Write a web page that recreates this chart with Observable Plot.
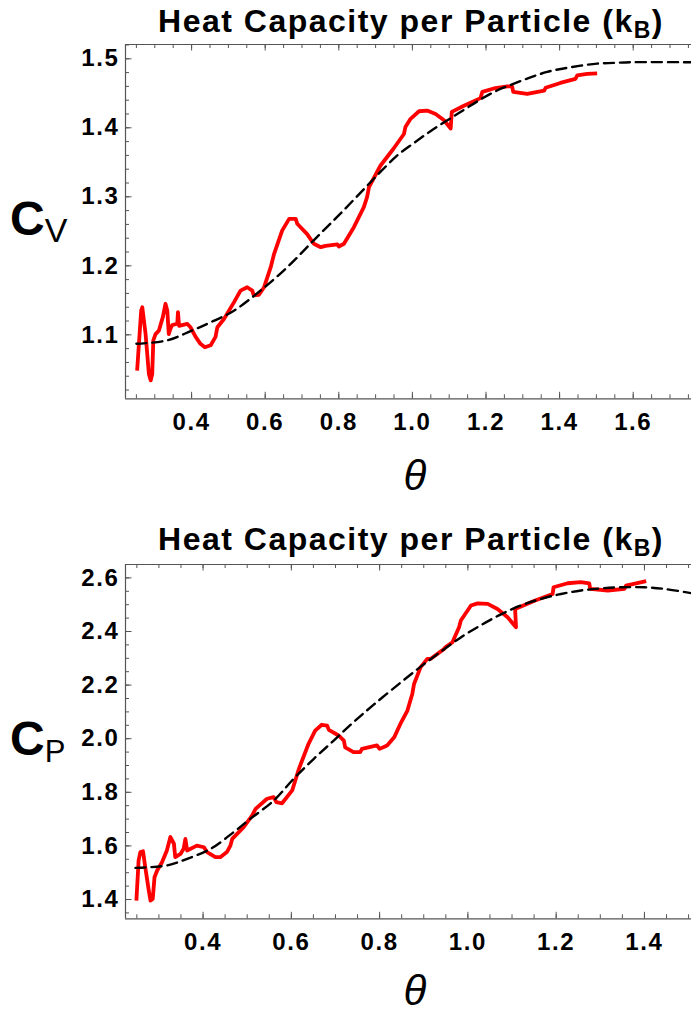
<!DOCTYPE html>
<html><head><meta charset="utf-8">
<script src="https://cdn.jsdelivr.net/npm/d3@7"></script>
<script src="https://cdn.jsdelivr.net/npm/@observablehq/plot@0.6"></script>
<style>
body{margin:0;background:#fff;}
#chart{width:691px;height:1013px;position:relative;overflow:hidden;background:#fff;}
#chart svg{display:block;}
</style></head><body><div id="chart"></div>
<script>
// ---------- Panel 1: C_V ----------
const cvDataTheta = [0.252,0.263,0.266,0.275,0.284,0.289,0.293,0.296,0.302,0.311,0.322,0.329,0.334,0.338,0.342,0.347,0.361,0.363,0.366,0.388,0.397,0.411,0.424,0.436,0.452,0.465,0.470,0.488,0.515,0.533,0.551,0.565,0.569,0.583,0.597,0.615,0.624,0.646,0.665,0.683,0.687,0.714,0.732,0.751,0.764,0.796,0.800,0.814,0.841,0.868,0.877,0.882,0.913,0.949,0.977,0.981,0.995,1.018,1.040,1.063,1.086,1.104,1.107,1.140,1.185,1.190,1.221,1.258,1.271,1.274,1.312,1.358,1.362,1.402,1.443,1.448,1.475,1.502];
const cvDataValue = [1.048,1.135,1.140,1.101,1.043,1.034,1.043,1.092,1.101,1.106,1.126,1.145,1.135,1.101,1.108,1.114,1.116,1.133,1.113,1.116,1.111,1.097,1.087,1.082,1.085,1.097,1.111,1.123,1.147,1.164,1.169,1.164,1.157,1.158,1.169,1.198,1.217,1.251,1.268,1.268,1.261,1.246,1.232,1.227,1.229,1.231,1.228,1.232,1.256,1.285,1.300,1.314,1.345,1.370,1.391,1.401,1.413,1.424,1.425,1.420,1.411,1.399,1.423,1.432,1.443,1.452,1.457,1.460,1.460,1.452,1.449,1.454,1.458,1.465,1.471,1.476,1.478,1.479];
const cvTheoryTheta = [0.25,0.334,0.40,0.451,0.515,0.587,0.66,0.732,0.805,0.877,0.913,0.959,1.004,1.049,1.095,1.140,1.185,1.230,1.276,1.321,1.366,1.411,1.457,1.502,1.547,1.593,1.76];
const cvTheoryValue = [1.087,1.092,1.106,1.118,1.135,1.164,1.198,1.237,1.276,1.316,1.336,1.360,1.378,1.395,1.411,1.426,1.441,1.454,1.464,1.473,1.481,1.486,1.490,1.493,1.494,1.495,1.495];
const cvXTicks = [0.4,0.6,0.8,1.0,1.2,1.4,1.6];
const cvYTicks = [1.1,1.2,1.3,1.4,1.5];

// ---------- Panel 2: C_P ----------
const cpDataTheta = [0.249,0.254,0.258,0.264,0.269,0.277,0.281,0.286,0.290,0.296,0.307,0.318,0.326,0.334,0.337,0.349,0.356,0.360,0.364,0.386,0.402,0.409,0.428,0.439,0.454,0.462,0.466,0.492,0.511,0.519,0.545,0.560,0.566,0.579,0.602,0.617,0.639,0.654,0.669,0.681,0.685,0.707,0.719,0.722,0.741,0.756,0.760,0.794,0.800,0.817,0.833,0.847,0.863,0.874,0.878,0.893,0.908,0.916,0.946,0.949,0.965,0.980,0.984,1.007,1.022,1.045,1.067,1.090,1.109,1.107,1.151,1.192,1.194,1.226,1.256,1.275,1.277,1.317,1.355,1.358,1.404];
const cpDataValue = [1.396,1.546,1.577,1.580,1.521,1.434,1.396,1.402,1.483,1.508,1.539,1.583,1.633,1.608,1.558,1.570,1.589,1.626,1.583,1.601,1.595,1.577,1.558,1.558,1.577,1.601,1.626,1.670,1.713,1.738,1.776,1.782,1.763,1.759,1.807,1.887,1.981,2.030,2.052,2.049,2.033,2.012,1.993,1.968,1.950,1.950,1.962,1.975,1.962,1.975,2.005,2.055,2.105,2.167,2.204,2.267,2.298,2.298,2.335,2.341,2.360,2.416,2.441,2.497,2.505,2.503,2.484,2.453,2.416,2.484,2.515,2.540,2.565,2.580,2.584,2.580,2.559,2.553,2.559,2.571,2.588];
const cpTheoryTheta = [0.247,0.318,0.364,0.417,0.469,0.507,0.560,0.605,0.651,0.696,0.741,0.786,0.848,0.894,0.939,0.984,1.030,1.075,1.120,1.166,1.211,1.256,1.302,1.347,1.400,1.445,1.506];
const cpTheoryValue = [1.518,1.527,1.552,1.589,1.651,1.701,1.769,1.850,1.925,1.993,2.062,2.126,2.210,2.270,2.325,2.378,2.424,2.464,2.497,2.522,2.540,2.553,2.561,2.565,2.565,2.559,2.543];
const cpXTicks = [0.4,0.6,0.8,1.0,1.2,1.4];
const cpYTicks = [1.4,1.6,1.8,2.0,2.2,2.4,2.6];

const titleText = "Heat Capacity per Particle (k";
const titleSub = "B";
const xLabel = "θ";

const FONT = "'Liberation Sans', Arial, Helvetica, sans-serif";
const frameColor = "#555";

function zip(xs, ys) { return xs.map((x, i) => ({x, y: ys[i]})); }

function panel(o) {
  const W = 691, mL = 125, mR = 0;
  const plotW = W - mL - mR;
  const plotH = o.height - o.marginTop - o.marginBottom;
  const fmt = d3.format(".1f");
  const svg = Plot.plot({
    width: W, height: o.height,
    marginLeft: mL, marginRight: mR, marginTop: o.marginTop, marginBottom: o.marginBottom,
    style: `font-family:${FONT};letter-spacing:1.6px;background:#fff;color:#000;overflow:visible;`,
    x: {domain: o.xDomain},
    y: {domain: o.yDomain},
    marks: [
      Plot.ruleX([o.xDomain[0]], {stroke: frameColor, strokeWidth: 1.2}),
      Plot.ruleY([o.yDomain[0]], {stroke: frameColor, strokeWidth: 1.2}),
      Plot.ruleY([o.yDomain[1]], {stroke: frameColor, strokeWidth: 1.2}),
      Plot.tickX(o.xMinor, {x: d => d, stroke: frameColor, strokeWidth: 1, insetTop: plotH - 4}),
      Plot.tickX(o.xTicks, {x: d => d, stroke: frameColor, strokeWidth: 1, insetTop: plotH - 6.5}),
      Plot.tickX(o.xMinor, {x: d => d, stroke: frameColor, strokeWidth: 1, insetBottom: plotH - 4}),
      Plot.tickX(o.xTicks, {x: d => d, stroke: frameColor, strokeWidth: 1, insetBottom: plotH - 6.5}),
      Plot.tickY(o.yMinor, {y: d => d, stroke: frameColor, strokeWidth: 1, insetRight: plotW - 4}),
      Plot.tickY(o.yTicks, {y: d => d, stroke: frameColor, strokeWidth: 1, insetRight: plotW - 6.5}),
      Plot.axisX({ticks: o.xTicks, tickSize: 0, tickPadding: 14, tickFormat: fmt, fontSize: 24, fontWeight: "bold", label: null, fill: "#000"}),
      Plot.axisY({ticks: o.yTicks, tickSize: 0, tickPadding: 6, tickFormat: fmt, fontSize: 24, fontWeight: "bold", label: null, fill: "#000"}),
      Plot.line(o.data, {x: "x", y: "y", stroke: "#ff0000", strokeWidth: 3.8, strokeLinejoin: "round", strokeLinecap: "butt"}),
      Plot.line(o.theory, {x: "x", y: "y", stroke: "#000", strokeWidth: 2.4, strokeDasharray: "10,6", curve: "catmull-rom"})
    ]
  });
  const s = d3.select(svg);
  const t = s.append("text")
    .attr("x", 411).attr("y", o.titleY)
    .attr("text-anchor", "middle")
    .style("font-family", FONT).style("font-weight", "bold").style("font-size", "32px")
    .style("letter-spacing", "1.5px").attr("fill", "#000");
  t.append("tspan").text(titleText);
  t.append("tspan").text(titleSub).attr("dy", 6).style("font-size", "23px");
  t.append("tspan").text(")").attr("dy", -6).style("font-size", "32px");
  const yl = s.append("text").attr("x", 10).attr("y", o.cY)
    .attr("text-anchor", "start")
    .style("font-family", FONT).style("letter-spacing", "0px").attr("fill", "#000");
  yl.append("tspan").text("C").style("font-weight", "bold").style("font-size", "48px");
  yl.append("tspan").text(o.sub).attr("dy", o.subDy).style("font-size", o.subSize + "px").style("font-weight", "normal");
  s.append("text").attr("x", 415).attr("y", o.thetaY).attr("text-anchor", "middle")
    .style("font-family", FONT).style("font-style", "italic").style("font-size", "42px")
    .style("letter-spacing", "0px").attr("fill", "#000").text(xLabel);
  return svg;
}

const root = document.getElementById("chart");
root.appendChild(panel({
  height: 500, marginTop: 44, marginBottom: 101.7,
  xDomain: [0.2204, 1.7584], yDomain: [1.0073, 1.5207],
  xTicks: cvXTicks, xMinor: d3.range(0.25, 1.76, 0.05),
  yTicks: cvYTicks, yMinor: d3.range(1.02, 1.521, 0.02),
  data: zip(cvDataTheta, cvDataValue), theory: zip(cvTheoryTheta, cvTheoryValue),
  titleY: 32, cY: 235, sub: "V", subDy: 7, subSize: 34, thetaY: 490
}));
root.appendChild(panel({
  height: 513, marginTop: 64, marginBottom: 94.7,
  xDomain: [0.2243, 1.5066], yDomain: [1.328, 2.65],
  xTicks: cpXTicks, xMinor: d3.range(0.25, 1.51, 0.05),
  yTicks: cpYTicks, yMinor: d3.range(1.35, 2.66, 0.05),
  data: zip(cpDataTheta, cpDataValue), theory: zip(cpTheoryTheta, cpTheoryValue),
  titleY: 50, cY: 255, sub: "P", subDy: 7, subSize: 31, thetaY: 505
}));
</script>
</body></html>
